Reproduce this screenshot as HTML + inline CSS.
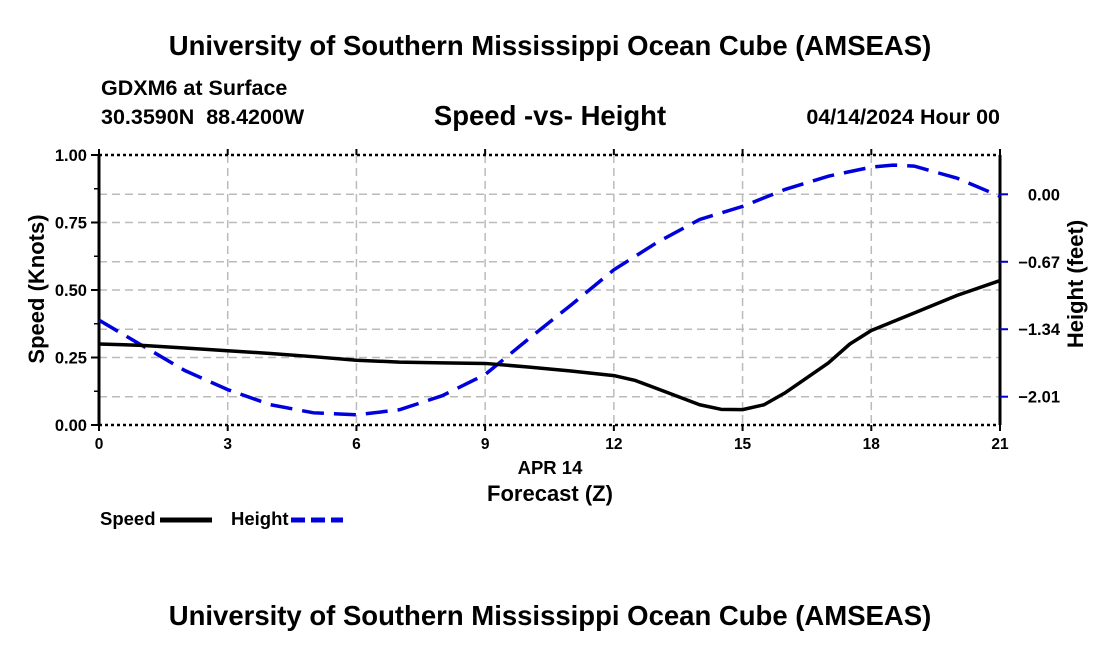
<!DOCTYPE html>
<html><head><meta charset="utf-8"><style>
body{margin:0;background:#fff;}
svg text{font-family:"Liberation Sans",Arial,sans-serif;font-weight:bold;fill:#000;}
</style></head><body>
<svg id="chart" width="1100" height="650" viewBox="0 0 1100 650" xmlns="http://www.w3.org/2000/svg">
<text x="550" y="55" font-size="27.5" text-anchor="middle">University of Southern Mississippi Ocean Cube (AMSEAS)</text>
<text x="101" y="95" font-size="21.5">GDXM6 at Surface</text>
<text x="101" y="124" font-size="21.5" xml:space="preserve">30.3590N  88.4200W</text>
<text x="550" y="125" font-size="27.5" text-anchor="middle">Speed -vs- Height</text>
<text x="1000" y="124" font-size="21.5" text-anchor="end">04/14/2024 Hour 00</text>
<g id="grid"></g>
<g id="axes"></g>
<g id="series"></g>
<text transform="translate(44,289) rotate(-90)" font-size="22" text-anchor="middle">Speed (Knots)</text>
<text transform="translate(1083,284) rotate(-90)" font-size="22" text-anchor="middle">Height (feet)</text>
<text x="550" y="474" font-size="18.5" text-anchor="middle">APR 14</text>
<text x="550" y="501" font-size="22" text-anchor="middle">Forecast (Z)</text>
<g>
<text x="100" y="525" font-size="18.5">Speed</text>
<line x1="160" y1="520" x2="212" y2="520" stroke="#000" stroke-width="5"/>
<text x="231" y="525" font-size="18.5">Height</text>
<line x1="291" y1="520" x2="343" y2="520" stroke="#0000dd" stroke-width="5" stroke-dasharray="14,6"/>
</g>
<text x="550" y="625" font-size="27.5" text-anchor="middle">University of Southern Mississippi Ocean Cube (AMSEAS)</text>
</svg>
<script>
const speedHours=[0,1,2,3,4,5,6,7,8,9,10,11,12,12.5,13,14,14.5,15,15.5,16,17,17.5,18,19,20,21];
const speedValues=[0.30,0.295,0.285,0.275,0.265,0.253,0.24,0.233,0.23,0.228,0.215,0.2,0.183,0.165,0.135,0.075,0.058,0.057,0.075,0.12,0.23,0.30,0.35,0.415,0.48,0.535];
const heightHours=[0,1,2,3,4,5,6,7,8,9,10,11,12,13,14,15,16,17,18,18.5,19,20,21];
const heightValues=[-1.25,-1.50,-1.75,-1.94,-2.09,-2.17,-2.19,-2.14,-2.0,-1.79,-1.44,-1.10,-0.75,-0.48,-0.25,-0.12,0.05,0.18,0.27,0.29,0.28,0.16,-0.02];
const xTicks=[0,3,6,9,12,15,18,21];
const leftTicks=[0,0.25,0.5,0.75,1.0];
const rightTicks=[0,-0.67,-1.34,-2.01];

const L=99,R=1000,T=155,B=425;
const xs=h=>L+(h/21)*(R-L);
const yl=v=>B-v*(B-T);
const PXFT=100.7,Y0=194.3;
const yr=v=>Y0-v*PXFT;
const NS="http://www.w3.org/2000/svg";
function mk(tag,attrs,parent){const e=document.createElementNS(NS,tag);for(const k in attrs)e.setAttribute(k,attrs[k]);parent.appendChild(e);return e;}
const grid=document.getElementById('grid'),axes=document.getElementById('axes'),series=document.getElementById('series');
xTicks.forEach(h=>{if(h>0&&h<21){const g=mk('line',{x1:xs(h),x2:xs(h),y1:T,y2:B,stroke:'#bbb','stroke-width':1.5,'stroke-dasharray':'8,5'},grid);

}});
leftTicks.forEach(v=>{if(v>0&&v<1){const g=mk('line',{x1:L,x2:R,y1:yl(v),y2:yl(v),stroke:'#bbb','stroke-width':1.5,'stroke-dasharray':'8,5'},grid);

}});
rightTicks.forEach(v=>{const g=mk('line',{x1:L,x2:R,y1:yr(v),y2:yr(v),stroke:'#bbb','stroke-width':1.5,'stroke-dasharray':'8,5'},grid);

});
[[L,T,R,T],[L,B,R,B]].forEach(c=>{mk('line',{x1:c[0],y1:c[1],x2:c[2],y2:c[3],stroke:'#000','stroke-width':2.5,'stroke-dasharray':'3,3'},axes);});
mk('line',{x1:L,y1:T,x2:L,y2:B,stroke:'#000','stroke-width':3},axes);
mk('line',{x1:R,y1:T,x2:R,y2:B,stroke:'#000','stroke-width':3},axes);
xTicks.forEach(h=>{mk('line',{x1:xs(h),x2:xs(h),y1:B,y2:B+6,stroke:'#000','stroke-width':2},axes);mk('line',{x1:xs(h),x2:xs(h),y1:T-6,y2:T,stroke:'#000','stroke-width':2},axes);
const t=mk('text',{x:xs(h),y:B+24,'font-size':15.5,'text-anchor':'middle'},axes);t.textContent=h;

});
leftTicks.forEach(v=>{mk('line',{x1:L-8,x2:L,y1:yl(v),y2:yl(v),stroke:'#000','stroke-width':2},axes);
const t=mk('text',{x:L-12,y:yl(v)+6,'font-size':16.5,'text-anchor':'end'},axes);t.textContent=v.toFixed(2);

});
for(let v=0.125;v<1;v+=0.25)mk('line',{x1:L-5,x2:L,y1:yl(v),y2:yl(v),stroke:'#000','stroke-width':1.5},axes);
rightTicks.forEach(v=>{mk('line',{x1:R,x2:R+8,y1:yr(v),y2:yr(v),stroke:'#0000cc','stroke-width':2},axes);
const t=mk('text',{x:R+60,y:yr(v)+6,'font-size':16.5,'text-anchor':'end'},axes);t.textContent=(v===0?'0.00':'\u2212'+Math.abs(v).toFixed(2));

});
const hp=mk('path',{d:heightHours.map((h,i)=>(i?'L':'M')+xs(h)+','+yr(heightValues[i])).join(' '),fill:'none',stroke:'#0000dd','stroke-width':3.5,'stroke-dasharray':'22,10'},series);


const sp=mk('path',{d:speedHours.map((h,i)=>(i?'L':'M')+xs(h)+','+yl(speedValues[i])).join(' '),fill:'none',stroke:'#000','stroke-width':3.5,'stroke-linejoin':'round'},series);


</script>
</body></html>
